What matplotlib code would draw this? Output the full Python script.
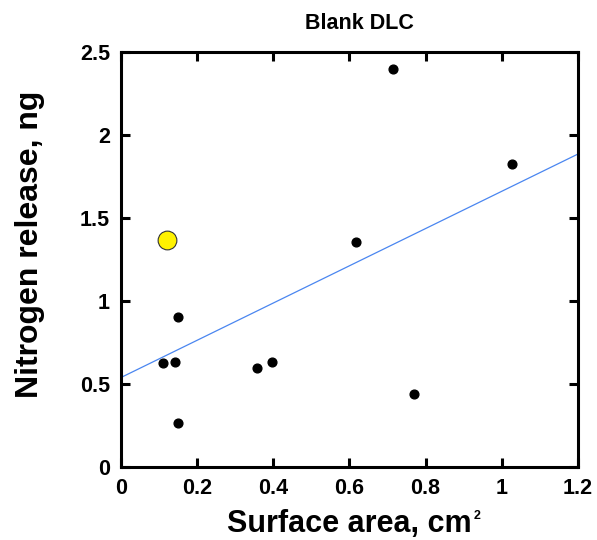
import numpy as np
import matplotlib.pyplot as plt

plt.rcParams['font.family'] = ['Liberation Sans', 'DejaVu Sans']
plt.rcParams['font.weight'] = 'bold'

# Blank DLC samples
area = [0.110, 0.143, 0.149, 0.150, 0.358, 0.397, 0.769, 0.618, 0.715, 1.027]
nitrogen = [0.625, 0.634, 0.905, 0.263, 0.600, 0.634, 0.440, 1.357, 2.400, 1.825]

# highlighted sample
hl_area = [0.121]
hl_nitrogen = [1.369]

# linear fit over all samples
all_x = np.array(area + hl_area)
all_y = np.array(nitrogen + hl_nitrogen)
slope, intercept = np.polyfit(all_x, all_y, 1)

fig = plt.figure(figsize=(5.97, 5.4), dpi=100)
ax = fig.add_axes([0.2027, 0.135, 0.7653, 0.7683])

xs = np.array([0, 1.2])
ax.plot(xs, slope * xs + intercept, color='#4a86f0', lw=0.9, zorder=2)
ax.plot(area, nitrogen, 'o', color='black', ms=6.3, zorder=3)
ax.plot(hl_area, hl_nitrogen, 'o', color='#fff200', mec='#333333', mew=0.8, ms=13.5, zorder=3)

ax.set_xlim(0, 1.2)
ax.set_ylim(0, 2.5)
ax.set_xticks([0, 0.2, 0.4, 0.6, 0.8, 1, 1.2])
ax.set_xticklabels(['0', '0.2', '0.4', '0.6', '0.8', '1', '1.2'])
ax.set_yticks([0, 0.5, 1, 1.5, 2, 2.5])
ax.set_yticklabels(['0', '0.5', '1', '1.5', '2', '2.5'])
ax.tick_params(direction='in', length=6.5, width=2.2, labelsize=15.5,
               top=True, right=True, pad=8)
for s in ax.spines.values():
    s.set_linewidth(2.2)

title = ax.set_title('Blank DLC', fontsize=15.5, fontweight='bold', pad=17)
title.set_x(0.522)

xlab = ax.set_xlabel('Surface area, cm', fontsize=22, fontweight='bold')
ax.xaxis.set_label_coords(0.5, -0.1)
# small superscript after "cm"
ax.annotate('2', xy=(1, 1), xycoords=xlab, xytext=(1, -1), textcoords='offset points',
            ha='left', va='top', fontsize=9, fontweight='bold')

ax.set_ylabel('Nitrogen release, ng', fontsize=23, fontweight='bold')
ax.yaxis.set_label_coords(-0.166, 0.538)

fig.savefig('out.png', dpi=100)
